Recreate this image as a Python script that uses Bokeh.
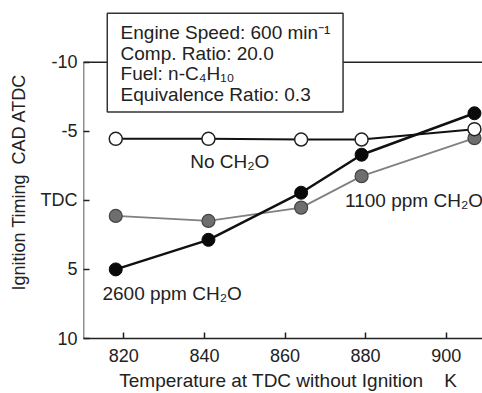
import math
from bokeh.plotting import figure
from bokeh.models import Range1d, FixedTicker
from bokeh.core.properties import value
from bokeh.embed import file_html
from bokeh.resources import INLINE

# ---- data ----
temps = [818, 841, 864, 879, 907]
no_ch2o = [-4.45, -4.45, -4.4, -4.4, -5.15]
ppm1100 = [1.13, 1.49, 0.53, -1.75, -4.5]
ppm2600 = [5.0, 2.86, -0.55, -3.3, -6.3]

y_ticks = [-10, -5, 0, 5, 10]
y_tick_labels = ["-10", "-5", "TDC", "5", "10"]
x_ticks = [820, 840, 860, 880, 900]

info_lines = ["Engine Speed: 600 min\u207b\u00b9", "Comp. Ratio: 20.0",
              "Fuel: n-C\u2084H\u2081\u2080", "Equivalence Ratio: 0.3"]
series_labels = ["No CH\u2082O", "1100 ppm CH\u2082O", "2600 ppm CH\u2082O"]
NB = "\u00a0"
x_title = NB * 2 + "Temperature at TDC without Ignition" + NB * 4 + "K"
y_title = "Ignition Timing" + NB * 2 + "CAD ATDC" + NB * 5

FONT = "Liberation Sans"
FS = "18px"
FS2 = "19px"

p = figure(width=482, height=393, output_backend="svg", toolbar_location=None,
           x_range=Range1d(810, 909), y_range=Range1d(10, -14.46),
           min_border_left=83, min_border_right=0, min_border_top=0, min_border_bottom=53)
p.outline_line_color = None
p.grid.visible = False
p.background_fill_color = "white"

# axes
p.xaxis.ticker = FixedTicker(ticks=x_ticks)
p.yaxis.ticker = FixedTicker(ticks=y_ticks)
p.yaxis.major_label_overrides = {t: l for t, l in zip(y_ticks, y_tick_labels)}
for ax in (p.xaxis, p.yaxis):
    ax.major_tick_in = 6
    ax.major_tick_out = 0
    ax.minor_tick_line_color = None
    ax.major_label_text_font = FONT
    ax.major_label_text_font_size = FS
    ax.major_label_text_color = "#222222"
    ax.major_tick_line_color = "#222222"
    ax.major_tick_line_width = 1.5
    ax.axis_label_text_font = FONT
    ax.axis_label_text_font_style = "normal"
    ax.axis_label_text_color = "#222222"
p.xaxis.axis_label_text_font_size = FS2
p.yaxis.axis_label_text_font_size = FS
p.xaxis.axis_label = x_title
p.yaxis.axis_label = y_title
p.yaxis.axis_line_color = None
p.xaxis.axis_line_color = "#222222"
p.xaxis.axis_line_width = 1.5
p.xaxis.major_label_standoff = 10
p.yaxis.major_label_standoff = 6
p.xaxis.axis_label_standoff = 5
p.yaxis.axis_label_standoff = 9

# left spine and top border (only up to -10)
p.segment(x0=[810, 810], y0=[10, -10], x1=[810, 909], y1=[-10, -10],
          line_color="#222222", line_width=1.5)

# series
p.line(temps, ppm1100, line_color="#808080", line_width=1.8)
p.line(temps, ppm2600, line_color="#111111", line_width=2.5)
p.line(temps, no_ch2o, line_color="#111111", line_width=2)
p.scatter(temps, ppm1100, size=13, fill_color="#6e6e6e", line_color="#444444", line_width=1.2)
p.scatter(temps, ppm2600, size=13, fill_color="#0a0a0a", line_color="#0a0a0a")
p.scatter(temps, no_ch2o, size=13, fill_color="white", line_color="#222222", line_width=1.5)

# info box
p.quad(left=[815.9], right=[874.4], top=[-13.53], bottom=[-6.4],
       fill_color="white", line_color="#333333", line_width=1.5)
p.text(x=[819.2] * 4, y=[-12.16, -10.65, -9.21, -7.63], text=info_lines,
       text_font=value(FONT), text_font_size=FS2, text_baseline="middle",
       text_align="left", text_color="#222222")

# series labels
p.text(x=[846.3, 874.9, 814.7], y=[-2.8, 0.0, 6.76], text=series_labels,
       text_align=["center", "left", "left"], text_baseline="middle",
       text_font=value(FONT), text_font_size=FS2, text_color="#222222")

open("out.html", "w").write(file_html(p, INLINE))
